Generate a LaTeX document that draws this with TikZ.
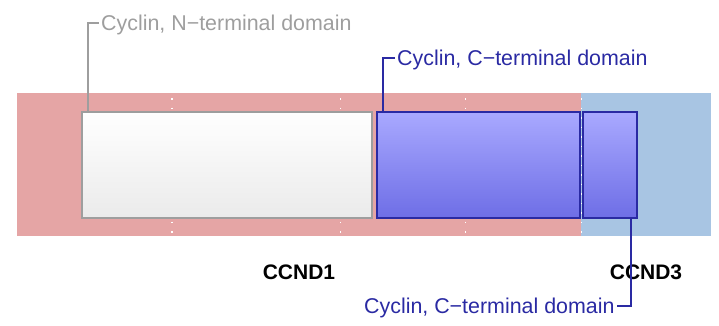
\documentclass[tikz,border=0pt]{standalone}
\usepackage{fontspec}
\setmainfont{Liberation Sans}
\usetikzlibrary{positioning}

\definecolor{bandpink}{HTML}{E5A5A5}
\definecolor{bandblue}{HTML}{A8C5E3}
\definecolor{ctermtop}{HTML}{A9A9FF}
\definecolor{ctermmid}{HTML}{9C9CFC}
\definecolor{ctermbot}{HTML}{6E6EE6}
\definecolor{ctermline}{HTML}{2A2AA3}
\definecolor{ntermline}{HTML}{9E9E9E}

\begin{document}
\begin{tikzpicture}[x=1pt, y=-1pt, font=\fontsize{21.4}{25}\selectfont,
    ndom/.style={draw=ntermline, line width=1.8pt, top color=white, middle color=black!1.5, bottom color=black!8,
        minimum height=106.3pt, anchor=north west, inner sep=0pt},
    cdom/.style={draw=ctermline, line width=1.8pt, top color=ctermtop, middle color=ctermmid,
        bottom color=ctermbot, minimum height=106.3pt, anchor=north west, inner sep=0pt},
    domlabel/.style={inner sep=0pt, inner xsep=2pt, text height=15pt, text depth=0pt},
    genelabel/.style={inner sep=0pt, text height=15pt, text depth=0pt, font=\fontsize{21}{25}\selectfont\bfseries}]
        \useasboundingbox (0,0) rectangle (719,326);

        % Gene bands
        \fill[bandpink] (17,93) rectangle (581.3,235.5);
        \fill[bandblue] (581.3,93) rectangle (710.7,235.5);
        \foreach \x in {172, 340.7, 465.7, 581.3}
            \draw[white, line width=1.3pt, dash pattern=on 1.5pt off 8pt, dash phase=-5.2pt] (\x,93) -- (\x,235.5);

        % Domains
        \node[ndom, minimum width=290.3pt] (n1box) at (80.7,110.7) {};
        \node[cdom, minimum width=203.3pt] (c1box) at (376,110.7) {};
        \node[cdom, minimum width=54pt] (c3box) at (582.3,110.7) {};

        % Gene names
        \node[genelabel] (ccnd1) at (299,271.7) {CCND1};
        \node[genelabel] (ccnd3) at (646,271.7) {CCND3};

        % Domain labels
        \node[domlabel, anchor=west, text=ntermline] (n1lab) at (99,22.7) {Cyclin, N−terminal domain};
        \node[domlabel, anchor=west, text=ctermline] (c1lab) at (395,57.8) {Cyclin, C−terminal domain};
        \node[domlabel, anchor=east, text=ctermline] (c3lab) at (616.7,305.8) {Cyclin, C−terminal domain};
        \draw[ntermline, line width=1.8pt] ([xshift=7pt]n1box.north west) |- (n1lab.west);
        \draw[ctermline, line width=1.8pt] ([xshift=7.3pt]c1box.north west) |- (c1lab.west);
        \draw[ctermline, line width=1.8pt] ([xshift=-7.3pt]c3box.south east) |- (c3lab.east);
    \end{tikzpicture}
\end{document}
